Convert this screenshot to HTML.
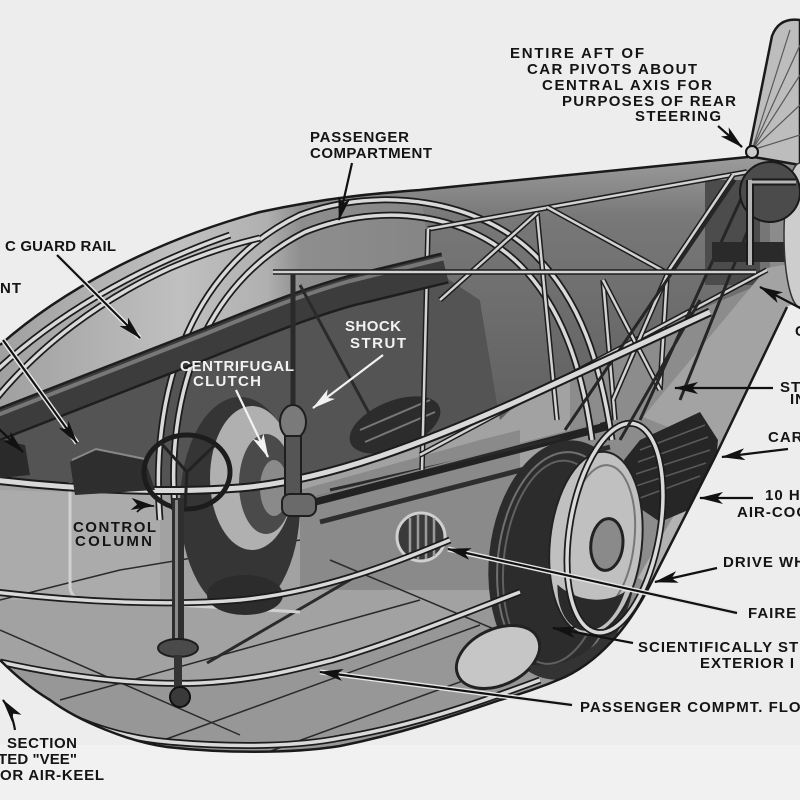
<!DOCTYPE html>
<html><head><meta charset="utf-8">
<style>
html,body{margin:0;padding:0;background:#eeeeee;}
svg{display:block}
text{font-family:"Liberation Sans",sans-serif;font-weight:bold;font-size:15px;fill:#141414;letter-spacing:1px}
.w{fill:#f2f2f2}
.tb{fill:none;stroke:#1c1c1c;stroke-width:7}
.tl{fill:none;stroke:#d9d9d9;stroke-width:3.5}
.fb{fill:none;stroke:#1e1e1e;stroke-width:5.5}
.fl{fill:none;stroke:#d2d2d2;stroke-width:2.5}
.dl{fill:none;stroke:#2a2a2a;stroke-width:1.5}
.ar{fill:none;stroke:#111;stroke-width:2.2}
.halo{fill:none;stroke:#e6e6e6;stroke-width:5}
</style></head><body>
<svg width="800" height="800" viewBox="0 0 800 800" xmlns="http://www.w3.org/2000/svg">
<defs>
<clipPath id="cb"><path d="M0,345 C60,292 150,242 260,212 C330,197 380,193 420,190 L748,157 L800,150 L800,300 L787,307 L715,457 L650,585 C628,628 600,660 565,677 C540,688 520,694 500,700 C450,717 400,734 340,746 C290,754 220,753 167,747 C130,742 80,722 50,700 C30,688 15,675 0,660 Z"/></clipPath>
<linearGradient id="gA" x1="0" y1="0" x2="430" y2="0" gradientUnits="userSpaceOnUse">
<stop offset="0" stop-color="#a0a0a0"/>
<stop offset="0.42" stop-color="#c0c0c0"/>
<stop offset="0.62" stop-color="#b0b0b0"/>
<stop offset="0.7" stop-color="#8e8e8e"/>
<stop offset="1" stop-color="#858585"/>
</linearGradient>
<linearGradient id="gT" x1="0" y1="160" x2="0" y2="420" gradientUnits="userSpaceOnUse">
<stop offset="0" stop-color="#9a9a9a"/>
<stop offset="0.22" stop-color="#787878"/>
<stop offset="1" stop-color="#606060"/>
</linearGradient>
<marker id="ab" markerWidth="24" markerHeight="12" refX="23" refY="6" orient="auto" markerUnits="userSpaceOnUse"><path d="M0,0 L24,6 L0,12 L6,6 Z" fill="#111"/></marker>
<marker id="aw" markerWidth="24" markerHeight="12" refX="23" refY="6" orient="auto" markerUnits="userSpaceOnUse"><path d="M0,0 L24,6 L0,12 L6,6 Z" fill="#f2f2f2"/></marker>
</defs>

<rect width="800" height="800" fill="#ededed"/>
<rect y="745" width="800" height="55" fill="#f1f1f1"/>

<g clip-path="url(#cb)">
<rect width="800" height="800" fill="#8c8c8c"/>
<path d="M0,485 C100,495 200,495 260,488 C340,478 430,445 520,400 L570,380 L570,800 L0,800 Z" fill="#a2a2a2"/>
<path d="M300,490 L480,440 L520,430 L520,590 L440,590 L300,590 Z" fill="#8a8a8a"/>
<path d="M0,490 L160,495 L160,600 L0,600 Z" fill="#ababab"/>
<path d="M0,662 C80,680 150,685 200,683 C260,680 300,668 333,660 C400,640 460,615 520,595 L560,580 L560,800 L0,800 Z" fill="#979797"/>
<path d="M0,340 C60,292 150,242 260,212 C330,197 380,193 420,190 L432,265 L0,418 Z" fill="url(#gA)"/>
<path d="M0,418 L200,345 L300,305 L432,268 L480,300 L500,420 L520,400 C430,445 340,478 260,488 C200,495 100,495 0,485 Z" fill="#545454"/>
<path d="M420,190 L748,157 L770,160 L770,280 L640,335 L520,400 L500,420 L480,300 L432,268 Z" fill="url(#gT)"/>
<rect x="705" y="180" width="55" height="105" fill="#4c4c4c"/>
<path d="M767,268 L800,262 L800,300 L787,307 L715,457 L700,440 L643,417 Z" fill="#a3a3a3"/>
<path d="M715,457 L650,585 L638,578 L700,470 Z" fill="#b2b2b2"/>

<path class="dl" d="M0,630 L240,735"/>
<path class="dl" d="M60,700 L420,600"/>
<path class="dl" d="M150,745 L480,625"/>
<path class="dl" d="M260,755 L520,660"/>
<path class="dl" d="M207,663 L367,570" style="stroke-width:3"/>
<path class="dl" d="M0,600 L120,570 L300,540"/>
<path class="dl" d="M330,560 L520,640"/>
<path d="M70,482 L70,588 Q72,600 86,600 L300,612" fill="none" stroke="#d0d0d0" stroke-width="3"/>

<ellipse cx="240" cy="505" rx="60" ry="108" fill="#353535"/>
<ellipse cx="252" cy="478" rx="42" ry="72" fill="#b0b0b0"/>
<ellipse cx="266" cy="484" rx="27" ry="50" fill="#4a4a4a"/>
<ellipse cx="274" cy="488" rx="14" ry="28" fill="#8a8a8a"/>
<ellipse cx="245" cy="595" rx="38" ry="20" fill="#2c2c2c"/>

<ellipse cx="395" cy="425" rx="48" ry="24" transform="rotate(-22 395 425)" fill="#2c2c2c"/>
<path d="M360,430 L430,400 M365,442 L435,412" stroke="#777" stroke-width="2"/>
<path d="M300,505 L610,425" stroke="#222" stroke-width="9"/>
<path d="M320,522 L610,447" stroke="#2e2e2e" stroke-width="5"/>
<path d="M330,490 L560,438" stroke="#2a2a2a" stroke-width="3"/>
<path d="M305,500 L600,423" stroke="#888" stroke-width="1.5"/>

<path d="M640,440 L700,412 L718,440 L715,470 L700,505 L660,522 L628,500 L624,460 Z" fill="#262626"/>
<path d="M640,450 L705,425 M638,462 L708,437 M636,474 L710,450 M636,486 L706,463 M640,498 L700,476" stroke="#5a5a5a" stroke-width="1.5"/>

<g transform="rotate(6 563 560)">
<ellipse cx="563" cy="560" rx="74" ry="120" fill="#2c2c2c"/>
<ellipse cx="560" cy="562" rx="62" ry="110" fill="none" stroke="#707070" stroke-width="2"/>
<ellipse cx="556" cy="563" rx="52" ry="102" fill="none" stroke="#606060" stroke-width="2"/>
<ellipse cx="594" cy="540" rx="46" ry="92" fill="#c0c0c0" stroke="#222" stroke-width="2"/>
<ellipse cx="598" cy="535" rx="34" ry="74" fill="none" stroke="#777" stroke-width="2"/>
<path d="M560,585 C565,640 615,645 628,585 C610,600 580,600 560,585 Z" fill="#2a2a2a"/>
<ellipse cx="605" cy="540" rx="16" ry="26" fill="#8a8a8a" stroke="#222" stroke-width="3"/>
</g>
<ellipse cx="498" cy="657" rx="44" ry="28" transform="rotate(-25 498 657)" fill="#c6c6c6" stroke="#222" stroke-width="3"/>
<path d="M530,672 C560,690 600,670 625,630 L600,640 C580,660 555,668 530,665 Z" fill="#333"/>

<circle cx="421" cy="537" r="24" fill="#3a3a3a" stroke="#d0d0d0" stroke-width="3"/>
<path d="M410,518 L410,556 M418,515 L418,559 M426,515 L426,559 M434,518 L434,556" stroke="#9a9a9a" stroke-width="2.5"/>

<path class="tb" d="M160,520 C150,400 185,270 300,215 C380,185 480,200 535,255 C580,300 600,360 612,440"/>
<path class="tl" d="M160,520 C150,400 185,270 300,215 C380,185 480,200 535,255 C580,300 600,360 612,440"/>
<path class="tb" d="M175,510 C166,400 200,285 305,232 C385,200 470,215 520,265 C560,305 582,365 592,440"/>
<path class="tl" d="M175,510 C166,400 200,285 305,232 C385,200 470,215 520,265 C560,305 582,365 592,440"/>
<path class="tb" d="M-5,372 C50,320 130,270 230,235"/>
<path class="tl" d="M-5,372 C50,320 130,270 230,235"/>
<path class="tb" d="M-5,400 C40,345 100,300 170,268 C200,255 230,245 260,238"/>
<path class="tl" d="M-5,400 C40,345 100,300 170,268 C200,255 230,245 260,238"/>
<ellipse class="tb" cx="615" cy="528" rx="45" ry="106" transform="rotate(10 615 528)"/>
<ellipse class="tl" cx="615" cy="528" rx="45" ry="106" transform="rotate(10 615 528)"/>
<path class="tb" d="M-5,592 C80,602 170,606 240,600 C320,592 390,565 450,540"/>
<path class="tl" d="M-5,592 C80,602 170,606 240,600 C320,592 390,565 450,540"/>
<path class="tb" d="M0,662 C80,680 150,685 200,683 C260,680 300,668 333,660 C400,640 460,615 520,592"/>
<path class="tl" d="M0,662 C80,680 150,685 200,683 C260,680 300,668 333,660 C400,640 460,615 520,592"/>
<path class="tb" d="M20,684 C60,720 120,738 170,742 C240,748 300,746 340,738 C400,728 460,710 540,680"/>
<path class="tl" d="M20,684 C60,720 120,738 170,742 C240,748 300,746 340,738 C400,728 460,710 540,680"/>

<g>
<path class="fb" d="M428,229 L747,172"/><path class="fl" d="M428,229 L747,172"/>
<path class="fb" d="M428,229 L422,470"/><path class="fl" d="M428,229 L422,470"/>
<path class="fb" d="M537,213 L557,420"/><path class="fl" d="M537,213 L557,420"/>
<path class="fb" d="M603,280 L615,420"/><path class="fl" d="M603,280 L615,420"/>
<path class="fb" d="M667,275 L660,390"/><path class="fl" d="M667,275 L660,390"/>
<path class="fb" d="M547,207 L667,273 L733,175"/><path class="fl" d="M547,207 L667,273 L733,175"/>
<path class="fb" d="M440,300 L537,213"/><path class="fl" d="M440,300 L537,213"/>
<path class="fb" d="M420,455 L767,270"/><path class="fl" d="M420,455 L767,270"/>
<path class="fb" d="M603,280 L660,390"/><path class="fl" d="M603,280 L660,390"/>
<path class="fb" d="M667,275 L613,400"/><path class="fl" d="M667,275 L613,400"/>
</g>
<path d="M745,190 L640,420 M760,200 L680,400 M735,180 L565,430 M700,300 L620,440" stroke="#262626" stroke-width="3" fill="none"/>
<path d="M712,242 L800,242 L800,262 L712,262 Z" fill="#2a2a2a"/>

<path class="tb" d="M-5,480 C80,490 180,494 250,487 C330,478 420,445 520,400 C590,368 650,340 710,312" style="stroke-width:9"/>
<path class="tl" d="M-5,480 C80,490 180,494 250,487 C330,478 420,445 520,400 C590,368 650,340 710,312" style="stroke-width:5"/>

<path d="M-10,428 L200,346 C250,326 300,305 350,291 L445,268" stroke="#1e1e1e" stroke-width="32" fill="none"/>
<path d="M-10,428 L200,346 C250,326 300,305 350,291 L445,268" stroke="#3c3c3c" stroke-width="27" fill="none"/>
<path d="M-10,418 L200,336 C250,316 300,295 350,281 L445,258" stroke="#777" stroke-width="4" fill="none"/>

<path class="fb" d="M273,272 L756,272"/><path class="fl" d="M273,272 L756,272"/>
<path d="M293,274 L293,410" stroke="#2a2a2a" stroke-width="5"/>
<path d="M300,285 L370,415" stroke="#2a2a2a" stroke-width="3"/>
<ellipse cx="293" cy="422" rx="13" ry="17" fill="#7a7a7a" stroke="#1e1e1e" stroke-width="2"/>
<rect x="285" y="436" width="16" height="64" fill="#555" stroke="#1e1e1e" stroke-width="2"/>
<rect x="282" y="494" width="34" height="22" rx="8" fill="#6a6a6a" stroke="#1e1e1e" stroke-width="2"/>

<path d="M70,462 L95,450 L145,460 L155,490 L75,495 Z" fill="#2e2e2e"/>
<path d="M72,460 L96,449 L145,459" stroke="#888" stroke-width="2" fill="none"/>
<path d="M0,440 L25,445 L30,475 L0,478 Z" fill="#2a2a2a"/>
<ellipse cx="187" cy="472" rx="43" ry="37" fill="none" stroke="#1c1c1c" stroke-width="5"/>
<path d="M187,472 L160,442 M187,472 L215,445 M187,472 L185,508" stroke="#222" stroke-width="3"/>
<rect x="172" y="498" width="12" height="142" fill="#2e2e2e"/>
<rect x="175" y="500" width="3" height="138" fill="#8a8a8a"/>
<ellipse cx="178" cy="648" rx="20" ry="9" fill="#4a4a4a" stroke="#1e1e1e" stroke-width="2"/>
<rect x="174" y="655" width="8" height="35" fill="#333"/>
<circle cx="180" cy="697" r="10" fill="#3a3a3a" stroke="#111" stroke-width="2"/>
</g>

<path d="M0,345 C60,292 150,242 260,212 C330,197 380,193 420,190 L748,157 M787,307 L715,457 L650,585 C628,628 600,660 565,677 C540,688 520,694 500,700 C450,717 400,734 340,746 C290,754 220,753 167,747 C130,742 80,722 50,700 C30,688 15,675 0,660" fill="none" stroke="#1a1a1a" stroke-width="2.5"/>

<path d="M748,156 L772,36 Q779,17 800,20 L800,165 Z" fill="#bdbdbd" stroke="#1a1a1a" stroke-width="2.5"/>
<path d="M752,150 L800,45 M752,150 L800,75 M752,150 L800,105 M752,150 L800,135 M752,150 L790,30" stroke="#5a5a5a" stroke-width="1.2"/>
<ellipse cx="800" cy="235" rx="16" ry="72" fill="#cdcdcd" stroke="#333" stroke-width="1.5"/>
<circle cx="770" cy="192" r="30" fill="#4b4b4b" stroke="#1a1a1a" stroke-width="2"/>
<path d="M750,180 L750,265" stroke="#1a1a1a" stroke-width="8"/>
<path d="M750,180 L750,265" stroke="#b5b5b5" stroke-width="4"/>
<path d="M752,182 L796,182" stroke="#1a1a1a" stroke-width="7"/>
<path d="M752,182 L796,182" stroke="#b5b5b5" stroke-width="3"/>
<circle cx="752" cy="152" r="6" fill="#ccc" stroke="#111" stroke-width="2"/>

<path class="ar" d="M718,126 L742,147" marker-end="url(#ab)"/>
<path class="ar" d="M352,163 Q346,190 339,220" marker-end="url(#ab)"/>
<path class="halo" d="M57,255 L140,338"/>
<path class="ar" d="M57,255 L140,338" marker-end="url(#ab)"/>
<path class="halo" d="M3,340 L77,443"/>
<path class="ar" d="M3,340 L77,443" marker-end="url(#ab)"/>
<path class="ar" d="M-2,428 L23,452" marker-end="url(#ab)"/>
<path d="M383,355 L313,408" stroke="#f2f2f2" stroke-width="2.2" fill="none" marker-end="url(#aw)"/>
<path d="M236,390 L268,457" stroke="#f2f2f2" stroke-width="2.2" fill="none" marker-end="url(#aw)"/>
<path class="ar" d="M137,512 Q143,505 154,506" marker-end="url(#ab)" style="stroke-width:1.8"/>
<path class="ar" d="M15,730 Q12,712 3,700" marker-end="url(#ab)"/>
<path class="ar" d="M802,309 L760,287" marker-end="url(#ab)"/>
<path class="ar" d="M773,388 L675,388" marker-end="url(#ab)"/>
<path class="ar" d="M788,449 L722,457" marker-end="url(#ab)"/>
<path class="ar" d="M753,498 L700,498" marker-end="url(#ab)"/>
<path class="ar" d="M717,568 L655,582" marker-end="url(#ab)"/>
<path class="halo" d="M737,613 L448,549"/>
<path class="ar" d="M737,613 L448,549" marker-end="url(#ab)"/>
<path class="ar" d="M633,643 L553,628" marker-end="url(#ab)"/>
<path class="halo" d="M572,705 L320,672"/>
<path class="ar" d="M572,705 L320,672" marker-end="url(#ab)"/>

<text x="510" y="58" textLength="135">ENTIRE AFT OF</text>
<text x="527" y="74" textLength="171">CAR PIVOTS ABOUT</text>
<text x="542" y="90" textLength="171">CENTRAL AXIS FOR</text>
<text x="562" y="106" textLength="175">PURPOSES OF REAR</text>
<text x="635" y="121" textLength="87">STEERING</text>
<text x="310" y="142" textLength="100">PASSENGER</text>
<text x="310" y="158" textLength="123">COMPARTMENT</text>
<text x="5" y="251" textLength="112">C GUARD RAIL</text>
<text x="0" y="293" textLength="22">NT</text>
<text class="w" x="345" y="331" textLength="57">SHOCK</text>
<text class="w" x="350" y="348" textLength="57">STRUT</text>
<text class="w" x="180" y="371" textLength="115">CENTRIFUGAL</text>
<text class="w" x="193" y="386" textLength="69">CLUTCH</text>
<text x="73" y="532" textLength="84">CONTROL</text>
<text x="75" y="546" textLength="78">COLUMN</text>
<text x="7" y="748" textLength="71">SECTION</text>
<text x="-2" y="764" textLength="80">TED "VEE"</text>
<text x="0" y="780" textLength="105">OR AIR-KEEL</text>
<text x="795" y="336">C</text>
<text x="780" y="392">ST</text>
<text x="790" y="404">IN</text>
<text x="768" y="442">CAR</text>
<text x="765" y="500">10 H</text>
<text x="737" y="517">AIR-COO</text>
<text x="723" y="567">DRIVE WH</text>
<text x="748" y="618">FAIRE</text>
<text x="638" y="652">SCIENTIFICALLY ST</text>
<text x="700" y="668">EXTERIOR I</text>
<text x="580" y="712">PASSENGER COMPMT. FLO</text>
</svg>
</body></html>
